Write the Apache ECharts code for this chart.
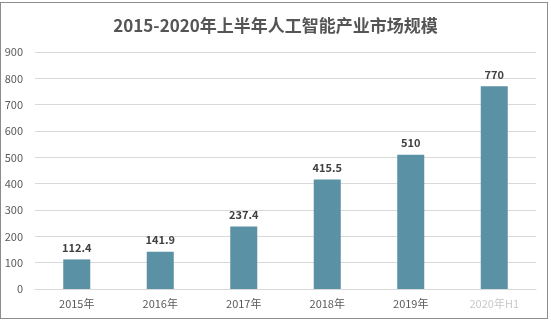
<!DOCTYPE html>
<html>
<head>
<meta charset="utf-8">
<script src="https://cdn.jsdelivr.net/npm/echarts@6/dist/echarts.min.js"></script>
<style>
  html, body { margin: 0; padding: 0; background: #ffffff; }
  #frame { position: absolute; left: 0; top: 2px; width: 548px; height: 317px; border: 1px solid #8c8c8c; box-sizing: border-box; }
  #chart { position: absolute; left: 0; top: 0; width: 551px; height: 324px; }
</style>
</head>
<body>
<div id="frame"></div>
<div id="chart"></div>
<script>
// Market size of the AI industry by year
const titleText = '2015-2020年上半年人工智能产业市场规模';
const years = ['2015年', '2016年', '2017年', '2018年', '2019年', '2020年H1'];
const marketSize = [112.4, 141.9, 237.4, 415.5, 510, 770];
const yTicks = { min: 0, max: 900, interval: 100 };

const chart = echarts.init(document.getElementById('chart'), null, { renderer: 'canvas' });
const cjk = '"Noto Sans CJK SC", "Noto Sans", sans-serif';

chart.setOption({
  backgroundColor: 'transparent',
  animation: false,
  title: {
    text: titleText,
    left: 'center',
    top: 12,
    textStyle: { fontFamily: cjk, fontSize: 17, fontWeight: 'bold', color: '#555555' }
  },
  grid: { left: 35, right: 15, top: 52, bottom: 35, containLabel: false },
  xAxis: {
    type: 'category',
    data: years,
    axisLine: { show: true, lineStyle: { color: '#d9d9d9' } },
    axisTick: { show: false },
    axisLabel: {
      interval: 0,
      fontFamily: cjk, fontSize: 11, color: '#595959', margin: 9,
      formatter: function (v, i) { return i === years.length - 1 ? '{faint|' + v + '}' : v; },
      rich: { faint: { fontFamily: cjk, fontSize: 11, color: '#c8c8c8' } }
    }
  },
  yAxis: {
    type: 'value',
    min: yTicks.min,
    max: yTicks.max,
    interval: yTicks.interval,
    axisLine: { show: false },
    axisTick: { show: false },
    axisLabel: { fontFamily: cjk, fontSize: 11, color: '#595959', margin: 12 },
    splitLine: { lineStyle: { color: '#d9d9d9', width: 1 } }
  },
  series: [{
    type: 'bar',
    data: marketSize,
    barWidth: 27,
    itemStyle: { color: '#5a91a4' },
    label: {
      show: true,
      position: 'top',
      distance: 6,
      fontFamily: cjk,
      fontSize: 11,
      fontWeight: 'bold',
      color: '#404040'
    }
  }]
});
</script>
</body>
</html>
